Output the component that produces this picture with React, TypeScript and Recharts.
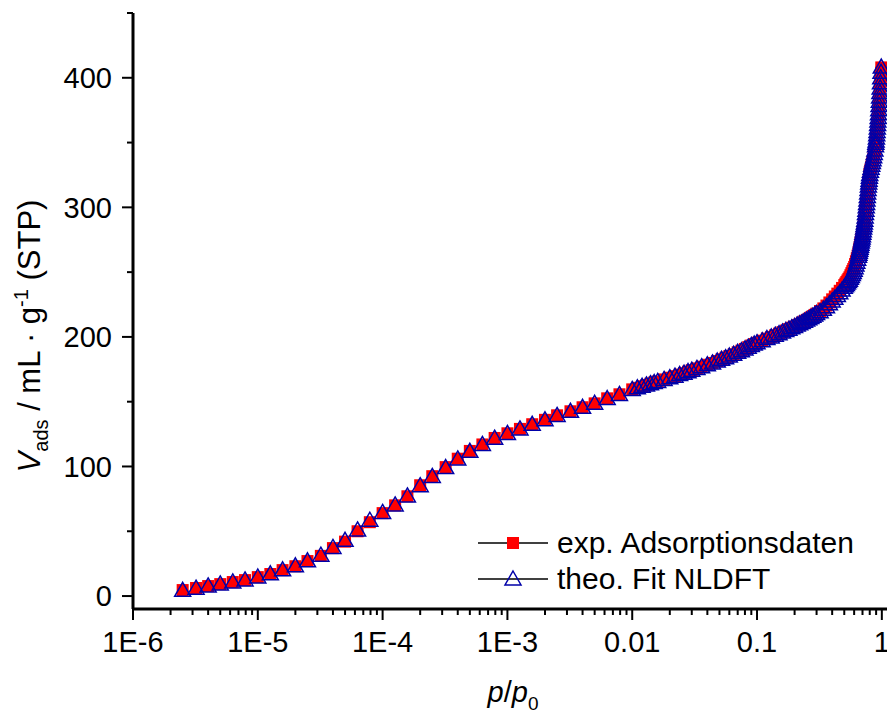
import React from 'react';
import { ScatterChart, Scatter, XAxis, YAxis, Legend } from 'recharts';

// p/p0 values, 0.1-decade steps in the micropore range
const PRESSURE_LOW = [
  2.5e-6, 3.2e-6, 4.0e-6, 5.0e-6, 6.3e-6, 7.9e-6,
  1.0e-5, 1.26e-5, 1.58e-5, 2.0e-5, 2.5e-5, 3.2e-5, 4.0e-5, 5.0e-5, 6.3e-5, 7.9e-5,
  1.0e-4, 1.26e-4, 1.58e-4, 2.0e-4, 2.5e-4, 3.2e-4, 4.0e-4, 5.0e-4, 6.3e-4, 7.9e-4,
  1.0e-3, 1.26e-3, 1.58e-3, 2.0e-3, 2.5e-3, 3.2e-3, 4.0e-3, 5.0e-3, 6.3e-3, 7.9e-3,
];
const EXP_LOW = [
  4.6, 6.2, 7.7, 9.2, 10.8, 12.3,
  14.6, 17, 20, 23, 27, 31, 37, 42, 50, 57,
  64, 70, 77, 85.5, 92.5, 99.5, 106, 112, 117, 122,
  125.6, 129, 132.6, 136, 139.5, 142.6, 145.7, 148.7, 152.6, 155.7,
];
const FIT_LOW = [
  4.4, 6.1, 7.8, 9.3, 10.9, 12.4,
  14.7, 17.2, 20.2, 23.3, 27.2, 31.5, 37.5, 43, 51, 58.5,
  64.5, 70.3, 77.3, 85.2, 92.3, 99.2, 105.8, 111.7, 117, 121.8,
  125.5, 129, 132.5, 136, 139.4, 142.6, 145.7, 148.8, 152.4, 155.6,
];

// dense part of the isotherm
const PRESSURE_HIGH = [
  0.010, 0.011, 0.012, 0.013, 0.014, 0.015, 0.016, 0.018, 0.020, 0.022,
  0.024, 0.026, 0.028, 0.030, 0.033, 0.036, 0.040, 0.044, 0.048, 0.052,
  0.056, 0.060, 0.065, 0.070, 0.075, 0.080, 0.085, 0.090, 0.095, 0.100,
  0.11, 0.12, 0.13, 0.14, 0.15, 0.16, 0.17, 0.18, 0.19, 0.20,
  0.21, 0.22, 0.23, 0.24, 0.25, 0.26, 0.27, 0.28, 0.29, 0.30,
  0.32, 0.34, 0.36, 0.38, 0.40, 0.42, 0.44, 0.46, 0.48, 0.50,
  0.51, 0.52, 0.53, 0.54, 0.55, 0.56, 0.57, 0.58, 0.59, 0.60,
  0.61, 0.62, 0.63, 0.64, 0.65,
  0.655, 0.66, 0.665, 0.67, 0.675, 0.68, 0.685, 0.69, 0.695, 0.70,
  0.705, 0.71, 0.715, 0.72, 0.725, 0.73, 0.735, 0.74, 0.745, 0.75,
  0.755, 0.76, 0.765, 0.77, 0.775, 0.78, 0.785, 0.79, 0.795, 0.80,
  0.81, 0.82, 0.83, 0.84, 0.85, 0.86, 0.87, 0.88, 0.89,
  0.895, 0.90, 0.905, 0.91, 0.915, 0.92, 0.925, 0.93, 0.935, 0.94,
  0.945, 0.95, 0.955, 0.96, 0.965, 0.97, 0.975, 0.98, 0.985, 0.99,
];
const EXP_HIGH = [
  159.5, 160.7, 161.9, 162.9, 163.9, 164.8, 165.6, 167.2, 168.5, 169.7,
  170.9, 172.0, 173.2, 174.3, 175.7, 177.0, 178.5, 179.9, 181.4, 182.7,
  184.0, 185.2, 186.6, 188.1, 189.4, 190.7, 192.1, 193.4, 194.5, 195.5,
  197.1, 198.7, 200.0, 201.3, 202.5, 203.7, 204.9, 206.0, 207.1, 208.0,
  209.1, 210.1, 211.1, 212.1, 213.0, 214.0, 215.0, 216.0, 217.0, 218.0,
  220.0, 222.0, 224.2, 226.6, 229.0, 231.2, 233.4, 235.6, 237.8, 240.0,
  241.2, 242.4, 243.6, 244.8, 246.0, 247.6, 249.2, 250.8, 252.4, 254.0,
  256.2, 258.4, 260.6, 262.8, 265.0,
  266.5, 268.0, 269.5, 271.0, 272.5, 274.0, 275.5, 277.0, 278.5, 280.0,
  282.0, 284.0, 286.0, 288.0, 290.0, 292.0, 294.7, 297.3, 300.0, 302.7,
  305.3, 308.0, 310.8, 313.5, 316.3, 319.0, 321.0, 323.0, 325.0, 327.0,
  329.0, 331.0, 333.0, 335.0, 337.0, 339.3, 341.7, 344.0, 347.5,
  349.2, 351.0, 353.5, 356.0, 358.5, 361.0, 363.8, 366.5, 369.3, 372.0,
  375.3, 378.5, 381.8, 385.0, 388.5, 392.0, 396.0, 400.0, 404.0, 408.0,
];
const FIT_HIGH = [
  159.5, 160.7, 161.9, 162.9, 163.9, 164.8, 165.6, 167.2, 168.5, 169.7,
  170.9, 172.0, 173.2, 174.3, 175.7, 177.0, 178.5, 179.9, 181.4, 182.7,
  184.0, 185.2, 186.6, 188.1, 189.4, 190.7, 192.1, 193.4, 194.5, 195.5,
  197.1, 198.7, 200.0, 201.3, 202.5, 203.7, 204.9, 206.0, 207.1, 208.0,
  209.1, 210.1, 211.1, 212.1, 213.0, 214.0, 215.0, 216.0, 217.0, 218.0,
  219.5, 221.3, 223.3, 225.5, 227.8, 229.9, 232.0, 234.1, 236.2, 238.3,
  239.4, 240.5, 241.6, 242.7, 243.8, 245.2, 246.7, 248.2, 249.8, 251.4,
  253.4, 255.5, 257.7, 260.0, 262.3,
  263.8, 265.3, 266.9, 268.4, 270.0, 271.6, 273.2, 274.8, 276.4, 278.0,
  280.0, 282.0, 284.0, 286.0, 288.0, 290.0, 292.6, 295.2, 297.8, 300.4,
  303.0, 305.6, 308.3, 311.0, 313.8, 316.5, 318.8, 321.0, 323.2, 325.3,
  327.8, 330.2, 332.5, 334.7, 336.8, 339.1, 341.6, 344.2, 347.6,
  349.4, 351.2, 353.6, 356.1, 358.6, 361.2, 363.9, 366.6, 369.4, 372.2,
  375.4, 378.6, 381.9, 385.2, 388.6, 392.2, 396.1, 400.1, 404.2, 408.3,
];

const X_MAJOR = [1e-6, 1e-5, 1e-4, 1e-3, 0.01, 0.1, 1];
const X_LABELS = ['1E-6', '1E-5', '1E-4', '1E-3', '0.01', '0.1', '1'];
const X_MINOR_STEPS = [2, 3, 4, 5, 6, 7, 8, 9];
const Y_TICKS = [0, 50, 100, 150, 200, 250, 300, 350, 400, 450];
const Y_LABELED = [0, 100, 200, 300, 400];

const SERIES_NAMES = ['exp. Adsorptionsdaten', 'theo. Fit NLDFT'];

const FONT = '"Liberation Sans", Arial, sans-serif';
const RED = '#ff0000';
const NAVY = '#0000a8';

const xTicks: number[] = [];
X_MAJOR.forEach((d, i) => {
  xTicks.push(d);
  if (i < X_MAJOR.length - 1) X_MINOR_STEPS.forEach((m) => xTicks.push(m * d));
});

const expData = [...PRESSURE_LOW, ...PRESSURE_HIGH].map((p, i) => ({
  p,
  v: [...EXP_LOW, ...EXP_HIGH][i],
}));
const fitData = [...PRESSURE_LOW, ...PRESSURE_HIGH].map((p, i) => ({
  p,
  v: [...FIT_LOW, ...FIT_HIGH][i],
}));

const Square = ({ cx, cy }: any) => (
  <rect x={cx - 6} y={cy - 6} width={12} height={12} fill={RED} />
);

const Triangle = ({ cx, cy }: any) => (
  <path
    d={`M${cx},${cy - 8}L${cx + 8},${cy + 6}L${cx - 8},${cy + 6}Z`}
    fill="none"
    stroke={NAVY}
    strokeWidth={1.5}
  />
);

const XTick = ({ x, y, payload }: any) => {
  const idx = X_MAJOR.indexOf(payload.value);
  const major = idx >= 0;
  return (
    <g>
      <line x1={x} x2={x} y1={y} y2={y + (major ? 11 : 6)} stroke="#000" strokeWidth={2} />
      {major && (
        <text x={x} y={y + 43} textAnchor="middle" fontFamily={FONT} fontSize={29} fill="#000">
          {X_LABELS[idx]}
        </text>
      )}
    </g>
  );
};

const YTick = ({ x, y, payload }: any) => {
  const major = Y_LABELED.includes(payload.value);
  return (
    <g>
      <line x1={x - (major ? 11 : 6)} x2={x} y1={y} y2={y} stroke="#000" strokeWidth={2} />
      {major && (
        <text x={x - 21} y={y} dy="0.36em" textAnchor="end" fontFamily={FONT} fontSize={29} fill="#000">
          {payload.value}
        </text>
      )}
    </g>
  );
};

const YTitle = () => (
  <text
    transform="translate(40, 336) rotate(-90)"
    textAnchor="middle"
    fontFamily={FONT}
    fontSize={31}
    fill="#000"
    style={{ whiteSpace: 'pre' }}
  >
    <tspan fontStyle="italic">V</tspan>
    <tspan fontSize={20} dy={8}>ads</tspan>
    <tspan dy={-8}> / mL · g</tspan>
    <tspan fontSize={20} dy={-12}>-1</tspan>
    <tspan dy={12}> (STP)</tspan>
  </text>
);

const XTitle = () => (
  <text x={513} y={702} textAnchor="middle" fontFamily={FONT} fontSize={29} fill="#000">
    <tspan fontStyle="italic">p</tspan>
    <tspan>/</tspan>
    <tspan fontStyle="italic">p</tspan>
    <tspan fontSize={19} dy={8}>0</tspan>
  </text>
);

const LegendBox = () => (
  <div style={{ fontFamily: FONT, fontSize: 30, color: '#000', lineHeight: '36px' }}>
    {SERIES_NAMES.map((name, i) => (
      <div key={name} style={{ display: 'flex', alignItems: 'center', height: 36 }}>
        <svg width={79} height={36}>
          <line x1={0} x2={70} y1={18} y2={18} stroke="#000" strokeWidth={1.5} />
          {i === 0 ? <Square cx={35} cy={18} /> : <Triangle cx={35} cy={18} />}
        </svg>
        <span>{name}</span>
      </div>
    ))}
  </div>
);

export default function App() {
  return (
    <div style={{ position: 'absolute', left: 0, top: 0, width: 887, height: 715, overflow: 'hidden' }}>
      <ScatterChart width={887} height={715} margin={{ top: 13, right: 0, bottom: 0, left: 0 }}>
        <XAxis
          dataKey="p"
          type="number"
          scale="log"
          domain={[1e-6, 1.1]}
          ticks={xTicks}
          interval={0}
          height={106}
          tickSize={0}
          tickMargin={0}
          tick={<XTick />}
          axisLine={{ stroke: '#000', strokeWidth: 3 }}
          label={<XTitle />}
        />
        <YAxis
          dataKey="v"
          type="number"
          domain={[-10, 450]}
          ticks={Y_TICKS}
          interval={0}
          width={133}
          tickSize={0}
          tickMargin={0}
          tick={<YTick />}
          axisLine={{ stroke: '#000', strokeWidth: 3 }}
          label={<YTitle />}
        />
        <Legend
          layout="vertical"
          align="center"
          verticalAlign="middle"
          content={<LegendBox />}
          wrapperStyle={{ position: 'absolute', left: 478, top: 525, width: 409 }}
        />
        <Scatter name={SERIES_NAMES[0]} data={expData} shape={<Square />} isAnimationActive={false} />
        <Scatter name={SERIES_NAMES[1]} data={fitData} shape={<Triangle />} isAnimationActive={false} />
      </ScatterChart>
    </div>
  );
}
